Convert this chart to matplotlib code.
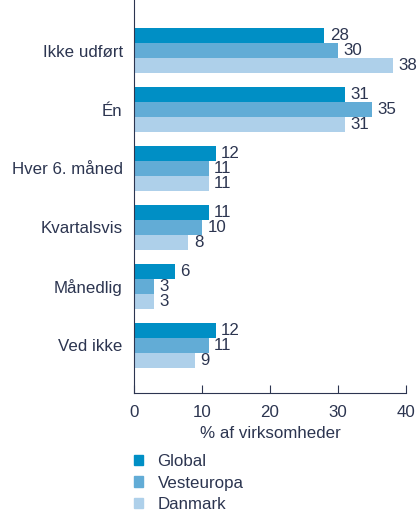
import numpy as np
import matplotlib.pyplot as plt
from matplotlib.patches import Patch

kategorier = ['Ikke udført', 'Én', 'Hver 6. måned', 'Kvartalsvis', 'Månedlig', 'Ved ikke']
serier = ['Global', 'Vesteuropa', 'Danmark']
global_v = [28, 31, 12, 11, 6, 12]
vesteuropa_v = [30, 35, 11, 10, 3, 11]
danmark_v = [38, 31, 11, 8, 3, 9]
farver = ['#008fc5', '#62acd6', '#aed0ea']
tekst = '#2c3550'

plt.rcParams['font.family'] = ['Liberation Sans', 'DejaVu Sans']
plt.rcParams['font.size'] = 12.2

fig = plt.figure(figsize=(4.17, 5.11), dpi=100)
ax = fig.add_axes([0.321, 0.231, 0.653, 0.769])

y = np.arange(len(kategorier))
h = 0.255
for i, (vals, c) in enumerate(zip([global_v, vesteuropa_v, danmark_v], farver)):
    pos = y + (i - 1) * h
    ax.barh(pos, vals, height=h, color=c)
    for p, v in zip(pos, vals):
        ax.text(v + 0.8, p, str(v), va='center', ha='left', color=tekst)

ax.set_xlim(0, 40)
ax.set_ylim(5.81, -0.86)
ax.set_yticks(y)
ax.set_yticklabels(kategorier, color=tekst)
ax.tick_params(axis='y', length=0, pad=8)
ax.set_xticks([0, 10, 20, 30, 40])
ax.tick_params(axis='x', direction='in', length=6, colors=tekst, labelcolor=tekst, pad=9)
for s in ['top', 'right']:
    ax.spines[s].set_visible(False)
for s in ['left', 'bottom']:
    ax.spines[s].set_color(tekst)
ax.set_xlabel('% af virksomheder', color=tekst, labelpad=4)

handles = [Patch(color=c, label=l) for c, l in zip(farver, serier)]
leg = fig.legend(handles=handles, loc='upper left', bbox_to_anchor=(0.321, 0.112),
                 frameon=False, handlelength=0.55, handleheight=0.55,
                 handletextpad=0.85, labelspacing=0.4, borderpad=0, borderaxespad=0)
for t in leg.get_texts():
    t.set_color(tekst)

fig.savefig('out.png', dpi=100)
